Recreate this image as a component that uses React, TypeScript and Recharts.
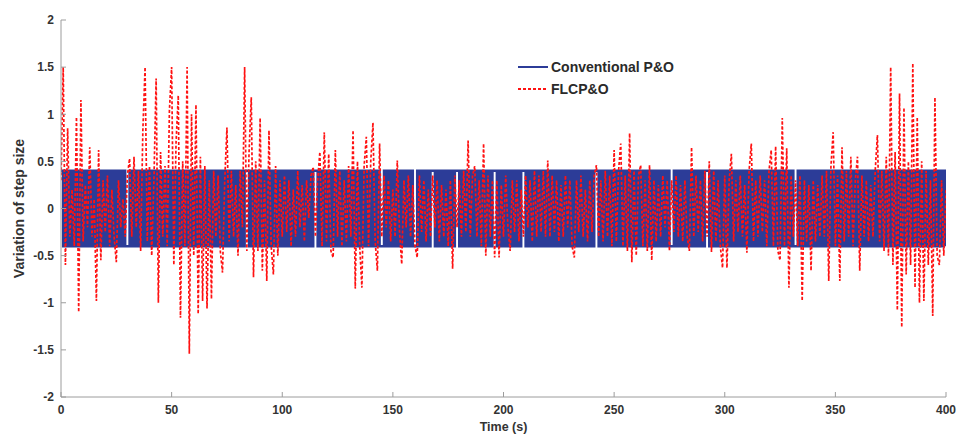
import React from 'react';
import { LineChart, Line, XAxis, YAxis } from 'recharts';

const xTicks = [0, 50, 100, 150, 200, 250, 300, 350, 400];
const yTicks = [-2, -1.5, -1, -0.5, 0, 0.5, 1, 1.5, 2];

// Conventional P&O step size, one sample per second (t = 0..400)
const conventionalPO = [
  .4,-.4,.4,-.4,.4,-.4,.4,-.4,.4,-.4,.4,-.4,.4,-.4,.4,-.4,.4,-.4,.4,-.4,
  .4,-.4,.4,-.4,.4,-.4,.4,-.4,.4,-.4,-.4,.4,-.4,.4,-.4,.4,-.4,.4,-.4,.4,
  -.4,.4,-.4,.4,-.4,.4,-.4,.4,-.4,.4,-.4,.4,-.4,.4,-.4,.4,-.4,.4,-.4,.4,
  -.4,.4,-.4,.4,-.4,.4,-.4,.4,-.4,.4,-.4,.4,-.4,.4,-.4,.4,-.4,.4,-.4,.4,
  -.4,.4,-.4,.4,.4,-.4,.4,-.4,.4,-.4,.4,-.4,.4,-.4,.4,-.4,.4,-.4,.4,-.4,
  .4,-.4,.4,-.4,.4,-.4,.4,-.4,.4,-.4,.4,-.4,.4,-.4,.4,.4,-.4,.4,-.4,.4,
  -.4,.4,-.4,.4,-.4,.4,-.4,.4,-.4,.4,-.4,.4,-.4,.4,-.4,.4,-.4,.4,-.4,.4,
  -.4,.4,-.4,.4,-.4,-.4,.4,-.4,.4,-.4,.4,-.4,.4,-.4,.4,-.4,.4,-.4,.4,-.4,
  -.4,.4,-.4,.4,-.4,.4,-.4,.4,.4,-.4,.4,-.4,.4,-.4,.4,-.4,.4,-.4,.4,.4,
  -.4,.4,-.4,.4,-.4,.4,-.4,.4,-.4,.4,-.4,.4,-.4,.4,-.4,.4,.4,-.4,.4,-.4,
  .4,-.4,.4,-.4,.4,-.4,.4,-.4,.4,.4,-.4,.4,-.4,.4,-.4,.4,-.4,.4,-.4,.4,
  -.4,.4,-.4,.4,-.4,.4,-.4,.4,-.4,.4,-.4,.4,-.4,.4,-.4,.4,-.4,.4,-.4,.4,
  -.4,.4,.4,-.4,.4,-.4,.4,-.4,.4,-.4,.4,-.4,.4,-.4,.4,-.4,.4,-.4,.4,-.4,
  .4,-.4,.4,-.4,.4,-.4,.4,-.4,.4,-.4,.4,-.4,.4,-.4,.4,-.4,-.4,.4,-.4,.4,
  -.4,.4,-.4,.4,-.4,.4,-.4,.4,-.4,.4,-.4,.4,.4,-.4,.4,-.4,.4,-.4,.4,-.4,
  .4,-.4,.4,-.4,.4,-.4,.4,-.4,.4,-.4,.4,-.4,.4,-.4,.4,-.4,.4,-.4,.4,-.4,
  .4,-.4,.4,-.4,.4,-.4,.4,-.4,.4,-.4,.4,-.4,-.4,.4,-.4,.4,-.4,.4,-.4,.4,
  -.4,.4,-.4,.4,-.4,.4,-.4,.4,-.4,.4,-.4,.4,-.4,.4,-.4,.4,-.4,.4,-.4,.4,
  -.4,.4,-.4,.4,-.4,.4,-.4,.4,-.4,.4,-.4,.4,-.4,.4,-.4,.4,-.4,.4,-.4,.4,
  -.4,.4,-.4,.4,-.4,.4,-.4,.4,-.4,.4,-.4,.4,-.4,.4,-.4,.4,-.4,.4,-.4,.4,
  -.4,
];

// FLC P&O step size, one sample per second (t = 0..400)
const flcPO = [
  0.3,1.5,-0.6,0.85,-0.3,0.2,-0.4,0.97,-1.1,1.15,-0.35,0.25,-0.2,0.65,-0.3,0.1,-0.98,0.62,-0.55,0.3,
  -0.25,0.35,-0.4,0.2,-0.3,-0.57,0.3,-0.2,0.1,-0.3,0.35,0.53,-0.3,0.55,-0.2,0.4,-0.45,0.83,1.5,-0.35,
  0.45,-0.5,0.3,1.38,-1.0,0.6,-0.3,0.45,-0.4,1.04,1.5,-0.6,0.7,1.2,-1.16,0.5,-0.4,1.5,-1.54,1.0,
  -0.5,1.1,-1.12,0.55,-0.98,0.45,-1.06,0.3,-0.96,0.4,-0.3,0.35,-0.45,-0.68,0.3,0.86,-0.35,0.4,-0.3,0.25,
  -0.5,0.4,-0.2,1.5,-0.45,0.6,1.18,-0.73,0.5,-0.45,0.96,-0.66,0.3,-0.77,0.83,-0.4,-0.7,0.45,-0.5,0.3,
  -0.3,0.35,-0.25,0.3,-0.4,0.2,-0.3,0.4,-0.2,0.25,-0.35,0.3,-0.1,0.35,0.44,-0.3,0.3,0.6,-0.4,0.81,
  -0.35,0.58,-0.45,-0.52,0.62,-0.3,0.4,-0.4,0.3,-0.35,0.45,-0.3,0.83,-0.85,0.5,-0.4,-0.84,0.45,0.76,-0.4,
  0.5,0.91,-0.35,-0.66,0.69,-0.3,0.35,-0.2,0.3,-0.35,0.2,-0.3,0.51,-0.25,-0.59,0.3,-0.2,0.35,-0.3,0.25,
  -0.4,-0.52,0.35,-0.25,0.3,-0.35,0.2,-0.3,0.35,-0.2,0.3,-0.35,0.25,-0.3,0.2,-0.4,0.3,-0.64,0.35,-0.2,
  0.3,-0.3,0.4,-0.25,0.72,-0.3,0.35,0.45,-0.3,0.3,-0.4,0.69,-0.5,0.35,-0.3,0.3,-0.52,0.3,-0.52,0.25,
  -0.3,0.35,-0.2,-0.45,0.3,-0.25,0.3,-0.35,0.2,-0.3,0.35,-0.2,0.3,-0.35,0.4,-0.3,0.35,-0.25,0.4,-0.3,
  0.51,-0.3,0.35,-0.25,0.3,-0.35,0.25,-0.3,0.35,-0.2,0.3,-0.4,-0.52,0.3,-0.25,0.35,-0.3,0.2,-0.35,0.3,
  -0.25,0.35,0.46,-0.3,0.3,-0.35,0.4,-0.3,0.35,-0.4,0.62,-0.35,0.4,0.69,-0.4,0.35,-0.45,0.8,-0.57,0.4,
  -0.5,0.35,0.46,-0.4,0.3,-0.45,0.46,-0.55,0.3,-0.35,0.25,-0.3,0.35,-0.2,0.3,-0.45,0.3,-0.25,0.35,-0.3,
  0.25,-0.35,0.3,-0.3,-0.45,0.65,-0.3,0.35,-0.25,0.3,-0.35,0.4,-0.3,0.5,-0.46,0.4,-0.35,0.3,-0.4,-0.63,
  0.35,-0.63,0.3,0.58,-0.35,0.3,-0.25,0.35,-0.3,0.25,-0.47,0.4,0.69,-0.35,0.3,-0.3,0.35,-0.25,0.3,-0.4,
  0.4,0.62,-0.4,0.66,-0.45,-0.55,0.96,-0.4,0.64,-0.84,0.35,-0.3,0.3,-0.4,0.35,-0.98,0.3,-0.35,0.25,-0.66,
  0.3,-0.35,0.25,-0.3,0.35,-0.3,0.4,-0.77,0.45,0.81,-0.4,0.35,-0.77,0.65,-0.35,0.4,-0.3,0.55,-0.4,0.3,
  0.55,-0.66,0.35,-0.3,0.3,-0.35,0.25,-0.3,0.4,0.78,-0.35,0.4,-0.45,0.55,-0.5,1.5,-0.6,0.6,-1.08,1.22,
  -1.26,1.07,-0.7,0.5,-0.6,1.54,-0.84,0.97,-1.0,0.5,-0.98,0.4,-0.6,0.3,-1.14,1.18,-0.5,-0.6,0.3,-0.5,
  0.2,
];

const SAMPLE_PERIOD = 1; // seconds

const data = conventionalPO.map((v, i) => ({
  t: i * SAMPLE_PERIOD,
  po: v,
  flc: flcPO[i],
}));

const BLUE = '#2c3c98';
const RED = '#ff1212';
const AXIS = '#9c9c9c';
const FONT = "'Liberation Sans', Arial, sans-serif";
const tickStyle = { fill: '#333', fontSize: 12, fontWeight: 700, fontFamily: FONT };

const legendItems = [
  { label: 'Conventional P&O', color: BLUE, dash: undefined, width: 2 },
  { label: 'FLCP&O', color: RED, dash: '3 2', width: 1.8 },
];

export default function App() {
  return (
    <div style={{ position: 'absolute', left: 0, top: 0, width: 961, height: 436, background: '#fff' }}>
      <LineChart
        width={961}
        height={436}
        data={data}
        margin={{ top: 20, right: 15, bottom: 0, left: 0 }}
      >
        <XAxis
          dataKey="t"
          type="number"
          domain={[0, 400]}
          ticks={xTicks}
          interval={0}
          height={39}
          stroke={AXIS}
          tickSize={-5}
          tickMargin={13}
          tick={tickStyle}
          allowDataOverflow
          label={{
            value: 'Time (s)',
            position: 'insideBottom',
            offset: 5,
            style: { fill: '#333', fontSize: 12.5, fontWeight: 700, fontFamily: FONT },
          }}
        />
        <XAxis
          xAxisId="top"
          orientation="top"
          dataKey="t"
          type="number"
          domain={[0, 400]}
          ticks={xTicks}
          interval={0}
          height={0}
          stroke={AXIS}
          tickSize={-5}
          tickFormatter={() => ''}
          allowDataOverflow
        />
        <YAxis
          type="number"
          domain={[-2, 2]}
          ticks={yTicks}
          interval={0}
          width={61}
          stroke={AXIS}
          tickSize={-5}
          tickMargin={12}
          tick={tickStyle}
          allowDataOverflow
          label={{
            value: 'Variation of step size',
            angle: -90,
            position: 'insideLeft',
            offset: 19,
            style: { fill: '#333', fontSize: 14, fontWeight: 700, fontFamily: FONT, textAnchor: 'middle' },
          }}
        />
        <YAxis
          yAxisId="right"
          orientation="right"
          type="number"
          domain={[-2, 2]}
          ticks={yTicks}
          interval={0}
          width={0}
          stroke={AXIS}
          tickSize={-5}
          tickFormatter={() => ''}
          allowDataOverflow
        />
        <Line
          type="stepAfter"
          dataKey="po"
          stroke={BLUE}
          strokeWidth={2.5}
          dot={false}
          activeDot={false}
          isAnimationActive={false}
        />
        <Line
          type="linear"
          dataKey="flc"
          stroke={RED}
          strokeWidth={1.7}
          strokeDasharray="3 2"
          dot={false}
          activeDot={false}
          isAnimationActive={false}
        />
      </LineChart>
      <div
        style={{
          position: 'absolute',
          left: 517,
          top: 56,
          fontFamily: FONT,
          fontWeight: 700,
          fontSize: 14,
          color: '#2a2a2a',
        }}
      >
        {legendItems.map((item) => (
          <div key={item.label} style={{ display: 'flex', alignItems: 'center', height: 22 }}>
            <svg width={34} height={10} style={{ display: 'block' }}>
              <line
                x1={1}
                y1={5}
                x2={31}
                y2={5}
                stroke={item.color}
                strokeWidth={item.width}
                strokeDasharray={item.dash}
              />
            </svg>
            <span>{item.label}</span>
          </div>
        ))}
      </div>
    </div>
  );
}
